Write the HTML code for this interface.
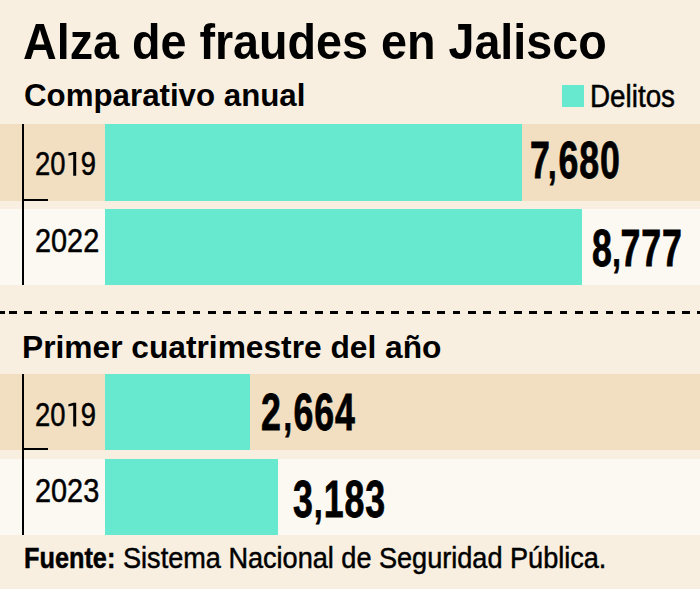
<!DOCTYPE html>
<html>
<head>
<meta charset="utf-8">
<style>
html,body{margin:0;padding:0;}
body{width:700px;height:589px;overflow:hidden;background:#f8efe0;position:relative;font-family:"Liberation Sans",sans-serif;color:#000;}
.a{position:absolute;}
.t{position:absolute;white-space:nowrap;line-height:1;transform-origin:0 0;}
.row1{background:#f2dfc1;}
.row2{background:#fcf8f2;}
.bar{background:#67e9cf;}
.k{background:#000;}
.yr{font-size:33px;font-weight:400;-webkit-text-stroke:0.5px #000;}
.one{color:transparent;-webkit-text-stroke-color:transparent;}
.rg{-webkit-text-stroke:0.5px #000;}
.val{font-size:51px;font-weight:700;-webkit-text-stroke:0.8px #000;letter-spacing:1.2px;}
.cm{font-size:44px;margin-left:-6.6px;margin-right:2.3px;}
</style>
</head>
<body>
<div class="t" style="left:22.5px;top:17.4px;font-size:49.5px;font-weight:700;transform:scaleX(0.943)">Alza de fraudes en Jalisco</div>
<div class="t" style="left:23.6px;top:79px;font-size:32px;font-weight:700;transform:scaleX(0.977)">Comparativo anual</div>
<div class="a bar" style="left:562px;top:85.1px;width:21.6px;height:21.5px"></div>
<div class="t rg" style="left:589.6px;top:80.6px;font-size:31px;transform:scaleX(0.897)">Delitos</div>

<div class="a row1" style="left:0;top:124px;width:700px;height:77px"></div>
<div class="a row2" style="left:0;top:209px;width:700px;height:76px"></div>
<div class="a bar" style="left:105px;top:124px;width:417px;height:77px"></div>
<div class="a bar" style="left:105px;top:209px;width:477px;height:76px"></div>
<div class="a k" style="left:22px;top:124px;width:2px;height:161px"></div>
<div class="a k" style="left:22px;top:199.4px;width:26px;height:2px"></div>
<div class="t yr" style="left:35.2px;top:147px;transform:scaleX(0.83)">20<span class="one">1</span>9</div>
<div class="t yr" style="left:34.9px;top:223.8px;transform:scaleX(0.875)">2022</div>
<div class="t val" style="left:529.7px;top:134.6px;transform:scaleX(0.70)">7<span class="cm" style="margin-left:-3.74px;margin-right:1.44px">,</span>680</div>
<div class="t val" style="left:592px;top:223.2px;transform:scaleX(0.70)">8<span class="cm" style="margin-left:-0.60px;margin-right:-1.56px">,</span>777</div>

<div class="a" style="left:0;top:311px;width:700px;height:3px;background:repeating-linear-gradient(90deg,#000 0,#000 7.7px,transparent 7.7px,transparent 15.3px);background-position:9px 0"></div>

<div class="t" style="left:22.4px;top:331.4px;font-size:32px;font-weight:700;transform:scaleX(0.991)">Primer cuatrimestre del año</div>

<div class="a row1" style="left:0;top:374px;width:700px;height:75.5px"></div>
<div class="a row2" style="left:0;top:458.8px;width:700px;height:76.2px"></div>
<div class="a bar" style="left:105px;top:374px;width:145px;height:75.5px"></div>
<div class="a bar" style="left:105px;top:458.8px;width:173px;height:76.2px"></div>
<div class="a k" style="left:22px;top:374px;width:2px;height:161px"></div>
<div class="a k" style="left:22px;top:448.3px;width:26px;height:2px"></div>
<div class="t yr" style="left:35px;top:398px;transform:scaleX(0.83)">20<span class="one">1</span>9</div>
<div class="t yr" style="left:34.9px;top:474px;transform:scaleX(0.875)">2023</div>
<div class="t val" style="left:261px;top:387.3px;transform:scaleX(0.70)">2<span class="cm" style="margin-left:2.40px;margin-right:1.16px">,</span>664</div>
<div class="t val" style="left:293px;top:474px;transform:scaleX(0.70)">3<span class="cm" style="margin-left:0.54px;margin-right:0.44px">,</span>183</div>

<svg class="a" style="left:0;top:0" width="100" height="589" viewBox="0 0 100 589"><path fill="#000" d="M68.4,153.6 L73.3,152 L76.2,152 L76.2,175.7 L73.2,175.7 L73.2,154.7 L68.4,155.8 Z"/><path fill="#000" transform="translate(0,250.7)" d="M68.4,153.6 L73.3,152 L76.2,152 L76.2,175.7 L73.2,175.7 L73.2,154.7 L68.4,155.8 Z"/></svg>
<div class="t rg" style="left:24.2px;top:543.1px;font-size:30px;font-weight:700;transform:scaleX(0.843)">Fuente:</div>
<div class="t rg" style="left:123.4px;top:543.1px;font-size:30px;transform:scaleX(0.903)">Sistema Nacional de Seguridad Pública.</div>
</body>
</html>
